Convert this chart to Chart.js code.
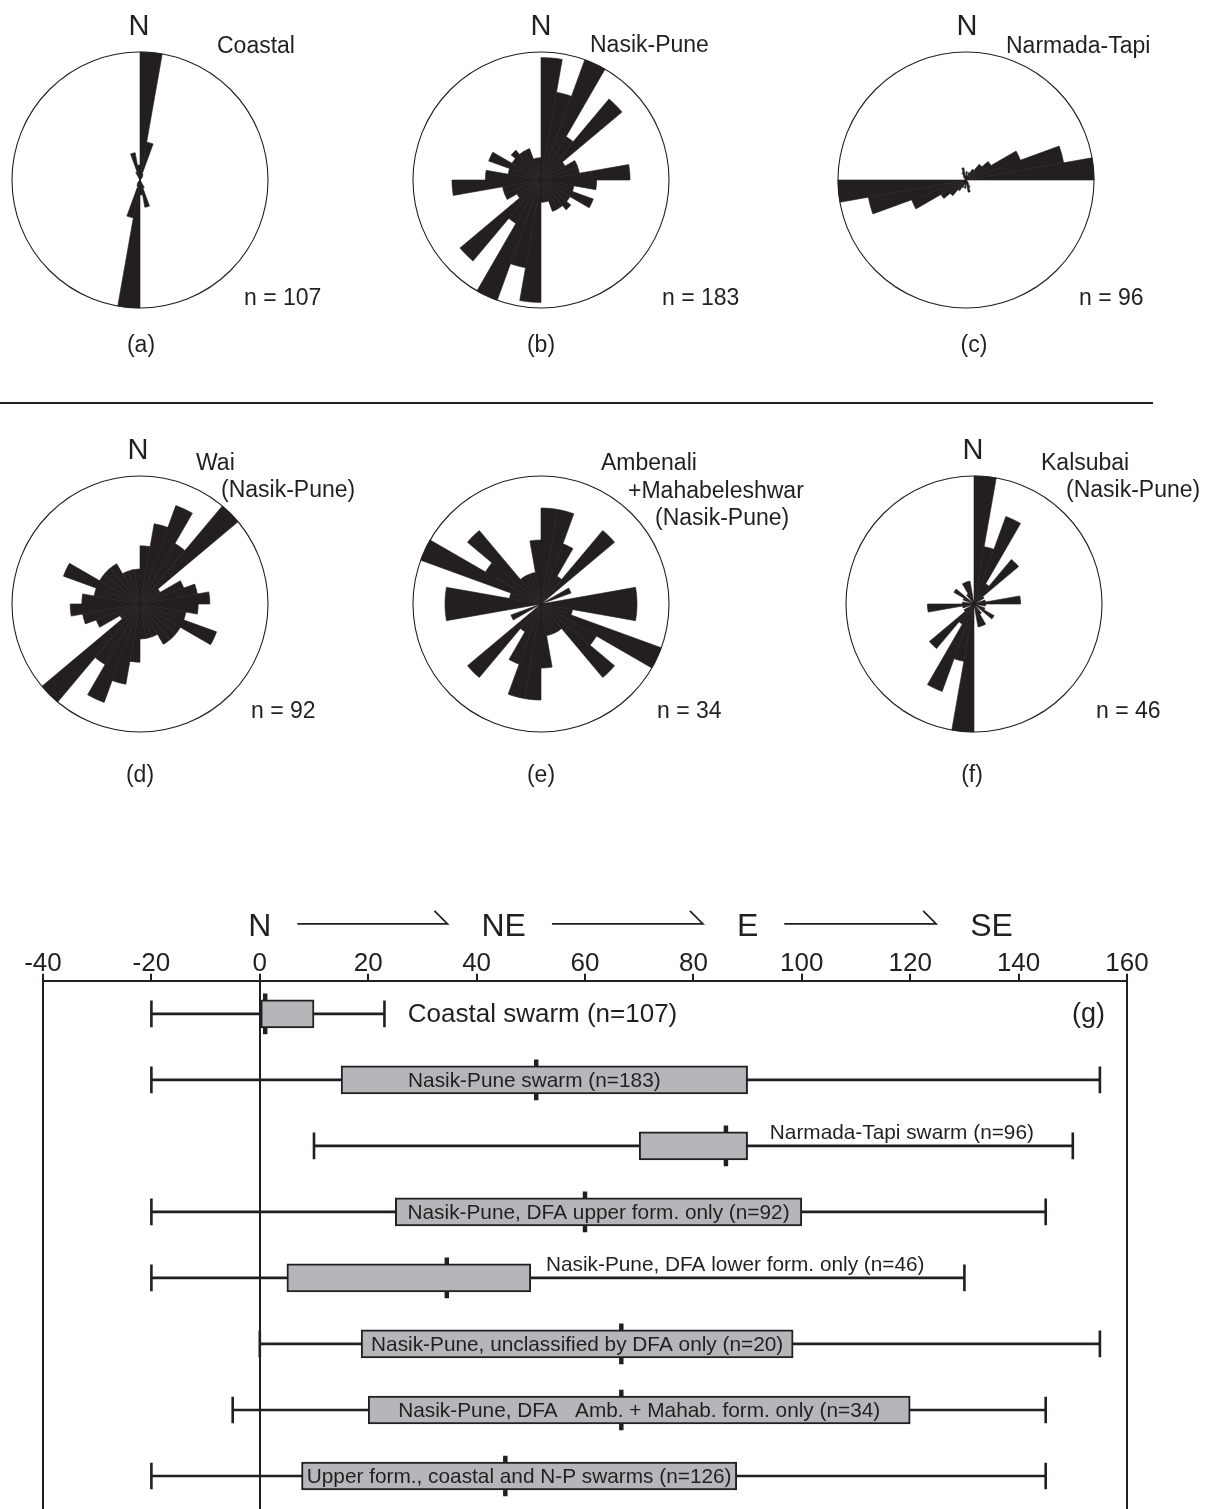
<!DOCTYPE html>
<html>
<head>
<meta charset="utf-8">
<script src="https://cdn.jsdelivr.net/npm/chart.js@4.4.1/dist/chart.umd.min.js"></script>
<style>
  html, body { margin: 0; padding: 0; background: #ffffff; }
  #page { position: relative; width: 1215px; height: 1509px; overflow: hidden; background: #ffffff; }
  #page canvas { position: absolute; }
  #overlay { position: absolute; left: 0; top: 0; pointer-events: none; }
</style>
</head>
<body>
<div id="page">
  <canvas id="roseA" width="260" height="260" style="left:10px;top:50px"></canvas>
  <canvas id="roseB" width="260" height="260" style="left:411px;top:50px"></canvas>
  <canvas id="roseC" width="260" height="260" style="left:836px;top:50px"></canvas>
  <canvas id="roseD" width="260" height="260" style="left:10px;top:474px"></canvas>
  <canvas id="roseE" width="260" height="260" style="left:411px;top:474px"></canvas>
  <canvas id="roseF" width="260" height="260" style="left:844px;top:474px"></canvas>
  <canvas id="boxChart" width="1215" height="629" style="left:0px;top:880px"></canvas>

  <svg id="overlay" width="1215" height="1509" xmlns="http://www.w3.org/2000/svg"
       font-family="'Liberation Sans', Arial, Helvetica, sans-serif" fill="#231f20">
    <!-- top row of rose diagrams -->
    <text x="139" y="35" font-size="29" text-anchor="middle">N</text>
    <text x="217" y="53" font-size="23">Coastal</text>
    <text x="244" y="305" font-size="23">n = 107</text>
    <text x="141" y="352" font-size="23" text-anchor="middle">(a)</text>

    <text x="541" y="35" font-size="29" text-anchor="middle">N</text>
    <text x="590" y="52" font-size="23">Nasik-Pune</text>
    <text x="662" y="305" font-size="23">n = 183</text>
    <text x="541" y="352" font-size="23" text-anchor="middle">(b)</text>

    <text x="967" y="35" font-size="29" text-anchor="middle">N</text>
    <text x="1006" y="53" font-size="23">Narmada-Tapi</text>
    <text x="1079" y="305" font-size="23">n = 96</text>
    <text x="974" y="352" font-size="23" text-anchor="middle">(c)</text>

    <line x1="0" y1="403" x2="1153" y2="403" stroke="#231f20" stroke-width="2"/>

    <!-- second row of rose diagrams -->
    <text x="138" y="459" font-size="29" text-anchor="middle">N</text>
    <text x="196" y="470" font-size="23">Wai</text>
    <text x="221" y="497" font-size="23">(Nasik-Pune)</text>
    <text x="251" y="718" font-size="23">n = 92</text>
    <text x="140" y="782" font-size="23" text-anchor="middle">(d)</text>

    <text x="601" y="470" font-size="23">Ambenali</text>
    <text x="628" y="498" font-size="23">+Mahabeleshwar</text>
    <text x="655" y="525" font-size="23">(Nasik-Pune)</text>
    <text x="657" y="718" font-size="23">n = 34</text>
    <text x="541" y="782" font-size="23" text-anchor="middle">(e)</text>

    <text x="973" y="459" font-size="29" text-anchor="middle">N</text>
    <text x="1041" y="470" font-size="23">Kalsubai</text>
    <text x="1066" y="497" font-size="23">(Nasik-Pune)</text>
    <text x="1096" y="718" font-size="23">n = 46</text>
    <text x="972" y="782" font-size="23" text-anchor="middle">(f)</text>
  </svg>
</div>

<script>
// ---------------- DATA ----------------
// 10-degree strike bins, clockwise from north (bidirectional rose: bin k and k+18 are equal)
const binLabels = [
  '0-10','10-20','20-30','30-40','40-50','50-60','60-70','70-80','80-90',
  '90-100','100-110','110-120','120-130','130-140','140-150','150-160','160-170','170-180',
  '180-190','190-200','200-210','210-220','220-230','230-240','240-250','250-260','260-270',
  '270-280','280-290','290-300','300-310','310-320','320-330','330-340','340-350','350-360'
];

// dyke counts per bin
const coastalCounts = [60,18,3,2,0,0,0,0,0,0,0,0,0,0,0,4,13,7,
                       60,18,3,2,0,0,0,0,0,0,0,0,0,0,0,4,13,7];
const nasikPuneCounts = [22,16,23,9,19,5,7,7,16,10,6,10,6,7,6,6,4,4,
                         22,16,23,9,19,5,7,7,16,10,6,10,6,7,6,6,4,4];
const narmadaTapiCounts = [2,1,2,3,5,7,14,24,31,0,0,0,0,0,1,2,3,1,
                           2,1,2,3,5,7,14,24,31,0,0,0,0,0,1,2,3,1];
const waiCounts = [5,7,9,6,11,2,4,5,6,5,4,7,4,4,4,3,3,3,
                   5,7,9,6,11,2,4,5,6,5,4,7,4,4,4,3,3,3];
const ambenaliCounts = [3,3,2,1,3,0,1,0,3,3,1,4,2,3,1,1,1,2,
                        3,3,2,1,3,0,1,0,3,3,1,4,2,3,1,1,1,2];
const kalsubaiCounts = [11,5,8,2,5,1,0,1,4,1,0,1,2,0,1,2,2,0,
                        11,5,8,2,5,1,0,1,4,1,0,1,2,0,1,2,2,0];

// box plot (g): strike azimuth statistics, degrees
const rowLabels = [
  'Coastal swarm (n=107)',
  'Nasik-Pune swarm (n=183)',
  'Narmada-Tapi swarm (n=96)',
  'Nasik-Pune, DFA upper form. only (n=92)',
  'Nasik-Pune, DFA lower form. only (n=46)',
  'Nasik-Pune, unclassified by DFA only (n=20)',
  'Nasik-Pune, DFA   Amb. + Mahab. form. only (n=34)',
  'Upper form., coastal and N-P swarms (n=126)'
];
const whiskerMin = [-20, -20, 10, -20, -20, 0, -5, -20];
const whiskerMax = [23, 155, 150, 145, 130, 155, 145, 145];
const boxQ1      = [0, 15, 70, 25, 5, 18.7, 20, 7.7];
const boxQ3      = [10, 90, 90, 100, 50, 98.4, 120, 88];
const medians    = [1, 51, 86, 60, 34.5, 66.7, 66.7, 45.3];

const tickValues = [-40, -20, 0, 20, 40, 60, 80, 100, 120, 140, 160];
const headingLabels = ['N', 'NE', 'E', 'SE'];
const headingAzimuths = [0, 45, 90, 135];

// ---------------- STYLE ----------------
const INK = '#231f20';
const BOX_FILL = '#b5b6b9';
const FONT = "'Liberation Sans', Arial, Helvetica, sans-serif";
const frameValues = [-40, 0, 160];
// where each row label is written (mode, anchor azimuth, pixel offsets, font size)
const labelPlacement = [
  { mode: 'right',  at: 27.3, dx: 0,   dy: 1,   size: 26 },
  { mode: 'inside',           dx: -10, dy: 1,   size: 20.8 },
  { mode: 'right',  at: 94.1, dx: 0,   dy: -13, size: 20.8 },
  { mode: 'inside',           dx: 0,   dy: 1,   size: 20.8 },
  { mode: 'right',  at: 52.8, dx: 0,   dy: -13, size: 20.8 },
  { mode: 'inside',           dx: 0,   dy: 1,   size: 20.8 },
  { mode: 'inside',           dx: 0,   dy: 1,   size: 20.8 },
  { mode: 'inside',           dx: 0,   dy: 1,   size: 20.8 }
];

Chart.defaults.font.family = FONT;
Chart.defaults.color = INK;

// ---------------- ROSE DIAGRAMS ----------------
function makeRose(id, counts) {
  const maxCount = Math.max(...counts);
  return new Chart(document.getElementById(id), {
    type: 'polarArea',
    data: {
      labels: binLabels,
      datasets: [{
        data: counts,
        backgroundColor: INK,
        borderColor: INK,
        borderWidth: 0.6
      }]
    },
    options: {
      responsive: false,
      animation: false,
      layout: { padding: 2 },
      plugins: { legend: { display: false }, tooltip: { enabled: false } },
      scales: {
        r: {
          min: 0,
          max: maxCount,
          startAngle: 0,
          ticks: { display: false, stepSize: maxCount },
          grid: { color: INK, lineWidth: 1.1, circular: true },
          angleLines: { display: false },
          pointLabels: { display: false }
        }
      }
    }
  });
}

makeRose('roseA', coastalCounts);
makeRose('roseB', nasikPuneCounts);
makeRose('roseC', narmadaTapiCounts);
makeRose('roseD', waiCounts);
makeRose('roseE', ambenaliCounts);
makeRose('roseF', kalsubaiCounts);

// ---------------- BOX PLOT ----------------
const annotationPlugin = {
  id: 'boxAnnotations',
  afterDatasetsDraw(chart) {
    const { ctx, chartArea } = chart;
    const x = chart.scales.x, y = chart.scales.y;
    ctx.save();
    ctx.fillStyle = INK;
    ctx.strokeStyle = INK;

    // row labels
    ctx.textBaseline = 'middle';
    rowLabels.forEach((txt, i) => {
      const p = labelPlacement[i];
      ctx.font = p.size + 'px ' + FONT;
      const yc = y.getPixelForValue(i) + p.dy;
      if (p.mode === 'inside') {
        ctx.textAlign = 'center';
        ctx.fillText(txt, x.getPixelForValue((boxQ1[i] + boxQ3[i]) / 2) + p.dx, yc);
      } else {
        ctx.textAlign = 'left';
        ctx.fillText(txt, x.getPixelForValue(p.at) + p.dx, yc);
      }
    });

    // panel letter
    ctx.font = '27px ' + FONT;
    ctx.textAlign = 'right';
    ctx.fillText('(g)', chartArea.right - 22, y.getPixelForValue(0) + 1);

    // compass headings with arrows
    ctx.font = '32px ' + FONT;
    ctx.textAlign = 'center';
    ctx.textBaseline = 'alphabetic';
    const base = chartArea.top - 45;
    const lineY = base - 12;
    const spans = headingLabels.map((h, k) => {
      const cx = x.getPixelForValue(headingAzimuths[k]);
      const w = ctx.measureText(h).width;
      ctx.fillText(h, cx, base);
      return [cx - w / 2, cx + w / 2];
    });
    ctx.lineWidth = 1.7;
    for (let k = 0; k < spans.length - 1; k++) {
      const x0 = spans[k][1] + 26;
      const x1 = spans[k + 1][0] - 34;
      ctx.beginPath();
      ctx.moveTo(x0, lineY);
      ctx.lineTo(x1, lineY);
      ctx.lineTo(x1 - 13, lineY - 13);
      ctx.stroke();
    }
    ctx.restore();
  }
};

new Chart(document.getElementById('boxChart'), {
  type: 'bar',
  data: {
    labels: rowLabels,
    datasets: [
      {
        label: 'range',
        data: rowLabels.map((_, i) => [whiskerMin[i], whiskerMax[i]]),
        backgroundColor: INK,
        maxBarThickness: 2,
        order: 5
      },
      {
        label: 'min cap',
        data: rowLabels.map((_, i) => [whiskerMin[i] - 0.18, whiskerMin[i] + 0.18]),
        backgroundColor: INK,
        maxBarThickness: 26,
        order: 4
      },
      {
        label: 'max cap',
        data: rowLabels.map((_, i) => [whiskerMax[i] - 0.18, whiskerMax[i] + 0.18]),
        backgroundColor: INK,
        maxBarThickness: 26,
        order: 3
      },
      {
        label: 'median',
        data: rowLabels.map((_, i) => [medians[i] - 0.35, medians[i] + 0.35]),
        backgroundColor: INK,
        maxBarThickness: 40,
        order: 2
      },
      {
        label: 'quartiles',
        data: rowLabels.map((_, i) => [boxQ1[i], boxQ3[i]]),
        backgroundColor: BOX_FILL,
        borderColor: INK,
        borderWidth: 2,
        borderSkipped: false,
        maxBarThickness: 28,
        order: 1
      }
    ]
  },
  options: {
    indexAxis: 'y',
    responsive: false,
    animation: false,
    datasets: { bar: { grouped: false, barPercentage: 1, categoryPercentage: 1 } },
    layout: { padding: { left: 43, right: 88, top: 73, bottom: 0 } },
    plugins: { legend: { display: false }, tooltip: { enabled: false } },
    scales: {
      x: {
        type: 'linear',
        position: 'top',
        min: tickValues[0],
        max: tickValues[tickValues.length - 1],
        afterBuildTicks(scale) { scale.ticks = tickValues.map(v => ({ value: v })); },
        ticks: { color: INK, font: { size: 26, family: FONT, lineHeight: 0.8 }, padding: 0, maxRotation: 0, autoSkip: false },
        grid: {
          color: ctx => (ctx.tick && frameValues.includes(ctx.tick.value)) ? INK : 'rgba(0,0,0,0)',
          lineWidth: 2,
          tickColor: INK,
          tickLength: 7,
          tickWidth: 2,
          drawOnChartArea: true
        },
        border: { color: INK, width: 2 }
      },
      y: { type: 'category', display: false }
    }
  },
  plugins: [annotationPlugin]
});
</script>
</body>
</html>
